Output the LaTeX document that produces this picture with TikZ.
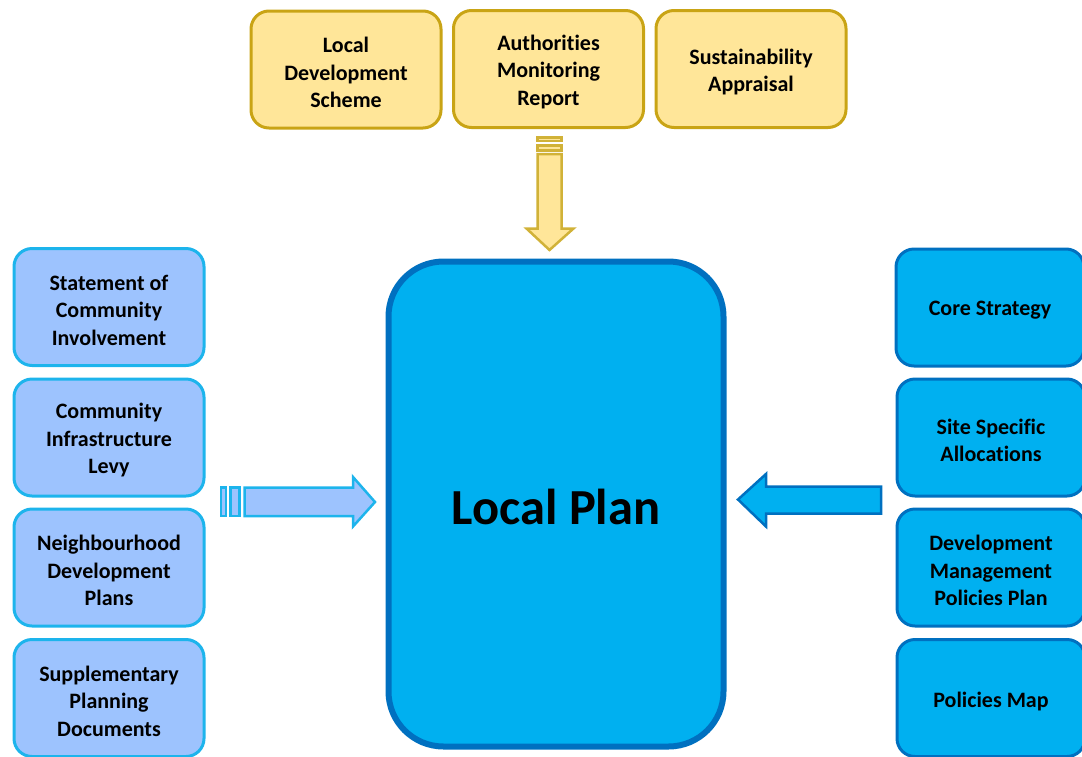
\documentclass[tikz,border=0pt]{standalone}
\usepackage{fontspec}
\setmainfont{Carlito}[Ligatures={NoCommon}]
\definecolor{yfill}{HTML}{FFE699}
\definecolor{ydraw}{HTML}{C9A415}
\definecolor{lfill}{HTML}{9DC3FE}
\definecolor{ldraw}{HTML}{1DB4EC}
\definecolor{rfill}{HTML}{00B0F0}
\definecolor{rdraw}{HTML}{0070C0}
\tikzset{
  box/.style={rounded corners=18pt, line width=3pt, inner sep=0pt},
  txt/.style={align=center, inner sep=0pt, yshift=-3pt,
    font=\fontsize{22}{27.5}\selectfont\bfseries, text=black},
  topbox/.style={box, fill=yfill, draw=ydraw, minimum width=190pt, minimum height=117pt},
  leftbox/.style={box, fill=lfill, draw=ldraw, minimum width=190pt, minimum height=117pt},
  rightbox/.style={box, fill=rfill, draw=rdraw, minimum width=188pt, minimum height=117pt},
  barrow/.style={line width=2.5pt, line join=miter}
}
\begin{document}
\begin{tikzpicture}[x=1pt,y=-1pt]
\useasboundingbox (0,0) rectangle (1082,756);
% top boxes
\node[topbox] (lds) at (346,69.5) {};
\node[txt] at (lds.center) {Local\\Development\\Scheme};
\node[topbox] (amr) at (548.5,69) {};
\node[txt] at (amr.center) {Authorities\\Monitoring\\Report};
\node[topbox] (sa)  at (751,69) {};
\node[txt] at (sa.center) {Sustainability\\Appraisal};
% left boxes
\node[leftbox] (sci) at (109,307) {};
\node[txt] at (sci.center) {Statement of\\Community\\Involvement};
\node[leftbox] (cil) at (109,437.5) {};
\node[txt] at (cil.center) {Community\\Infrastructure\\Levy};
\node[leftbox] (ndp) at (109,567.5) {};
\node[txt] at (ndp.center) {Neighbourhood\\Development\\Plans};
\node[leftbox] (spd) at (109,698) {};
\node[txt] at (spd.center) {Supplementary\\Planning\\Documents};
% right boxes
\node[rightbox] (cs)  at (990,307.5) {};
\node[txt] at (cs.center) {Core Strategy};
\node[rightbox] (ssa) at (991,437.5) {};
\node[txt] at (ssa.center) {Site Specific\\Allocations};
\node[rightbox] (dmp) at (991,567.5) {};
\node[txt] at (dmp.center) {Development\\Management\\Policies Plan};
\node[rightbox] (pm)  at (991,698) {};
\node[txt] at (pm.center) {Policies Map};
% centre
\node[rounded corners=55pt, line width=6pt, fill=rfill, draw=rdraw,
  minimum width=335pt, minimum height=485pt, inner sep=0pt] (lp) at (556,504) {};
\node[inner sep=0pt, font=\fontsize{50.5}{55}\selectfont\bfseries, yshift=-3pt] at (lp.center) {Local Plan};
% down arrow (yellow)
\draw[barrow, fill=yfill, draw=ydraw!85] (537.5,137.5) rectangle (561.5,141);
\draw[barrow, fill=yfill, draw=ydraw!85] (537.5,145.5) rectangle (561.5,150.5);
\draw[barrow, fill=yfill, draw=ydraw!85] (537.5,154) -- (561.5,154) -- (561.5,228.5) -- (573.5,228.5)
  -- (549.5,250) -- (526.5,228.5) -- (537.5,228.5) -- cycle;
% right arrow (left side)
\draw[barrow, fill=lfill, draw=ldraw] (221,487.5) rectangle (226,516);
\draw[barrow, fill=lfill, draw=ldraw] (230.5,487.5) rectangle (239.5,516);
\draw[barrow, fill=lfill, draw=ldraw] (244.5,487.5) -- (353,487.5) -- (353,477) -- (375,502)
  -- (353,526.5) -- (353,516) -- (244.5,516) -- cycle;
% left arrow (right side)
\draw[barrow, fill=rfill, draw=rdraw] (881,486.5) -- (766,486.5) -- (766,474) -- (738,499.5)
  -- (766,526.5) -- (766,513.5) -- (881,513.5) -- cycle;
\end{tikzpicture}
\end{document}
